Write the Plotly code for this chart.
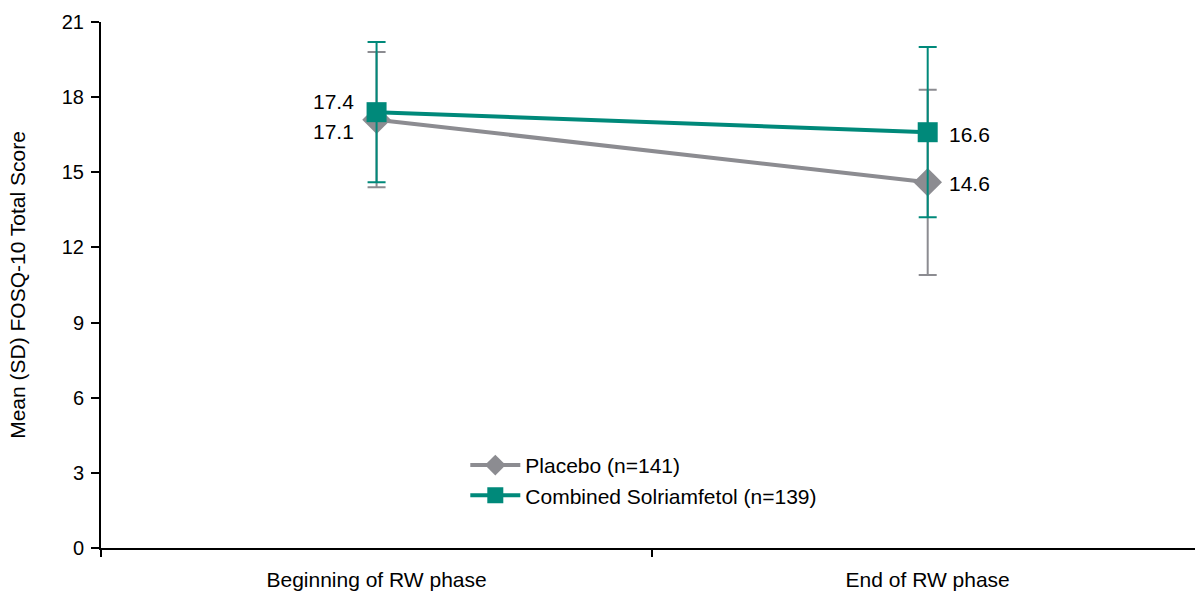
import plotly.graph_objects as go

categories = ["Beginning of RW phase", "End of RW phase"]
cat_pos = [0.5, 1.5]
placebo_mean = [17.1, 14.6]
placebo_sd = [2.7, 3.7]
solri_mean = [17.4, 16.6]
solri_sd = [2.8, 3.4]
y_ticks = [0, 3, 6, 9, 12, 15, 18, 21]

GRAY = "#8c8c91"
TEAL = "#00897a"
FONT = "Liberation Sans, Arial, sans-serif"

fig = go.Figure()
fig.add_trace(go.Scatter(
    x=cat_pos, y=placebo_mean, mode="lines+markers", name="Placebo (n=141)",
    line=dict(color=GRAY, width=4),
    marker=dict(symbol="diamond", size=22, color=GRAY),
    error_y=dict(type="data", array=placebo_sd, color=GRAY, thickness=2, width=9),
))
fig.add_trace(go.Scatter(
    x=cat_pos, y=solri_mean, mode="lines+markers", name="Combined Solriamfetol (n=139)",
    line=dict(color=TEAL, width=4),
    marker=dict(symbol="square", size=20, color=TEAL),
    error_y=dict(type="data", array=solri_sd, color=TEAL, thickness=2, width=9),
))

annotations = []
annotations.append(dict(x=cat_pos[0], y=solri_mean[0], text=f"{solri_mean[0]:.1f}", showarrow=False,
                        xanchor="right", yanchor="middle", xshift=-21, yshift=11))
annotations.append(dict(x=cat_pos[0], y=placebo_mean[0], text=f"{placebo_mean[0]:.1f}", showarrow=False,
                        xanchor="right", yanchor="middle", xshift=-21, yshift=-12))
annotations.append(dict(x=cat_pos[1], y=solri_mean[1], text=f"{solri_mean[1]:.1f}", showarrow=False,
                        xanchor="left", yanchor="middle", xshift=19, yshift=-2))
annotations.append(dict(x=cat_pos[1], y=placebo_mean[1], text=f"{placebo_mean[1]:.1f}", showarrow=False,
                        xanchor="left", yanchor="middle", xshift=19, yshift=-1))

fig.update_layout(
    width=1195, height=592,
    margin=dict(l=101, r=0, t=22, b=44),
    paper_bgcolor="white", plot_bgcolor="white",
    font=dict(family=FONT, size=21, color="black"),
    annotations=annotations,
    showlegend=True,
    legend=dict(x=0.333, y=0.196, xanchor="left", yanchor="top", itemwidth=50,
                bgcolor="rgba(0,0,0,0)", font=dict(size=21), tracegroupgap=0),
    xaxis=dict(range=[0, 1.985], tickvals=cat_pos, ticktext=categories,
               ticks="", showgrid=False, zeroline=False,
               showline=True, linecolor="black", linewidth=2,
               ticklabelstandoff=12,
               minor=dict(tickvals=[0, 1, 2], ticks="outside", ticklen=7,
                          tickwidth=2, tickcolor="black", showgrid=False),
               tickfont=dict(size=21)),
    yaxis=dict(range=[0, 21], tickvals=y_ticks, ticks="outside", ticklen=8,
               tickwidth=2, tickcolor="black", showgrid=False, zeroline=False,
               showline=True, linecolor="black", linewidth=2,
               ticklabelstandoff=3,
               title=dict(text="Mean (SD) FOSQ-10 Total Score", font=dict(size=21), standoff=30),
               tickfont=dict(size=20)),
)

fig.write_html("out.html")
